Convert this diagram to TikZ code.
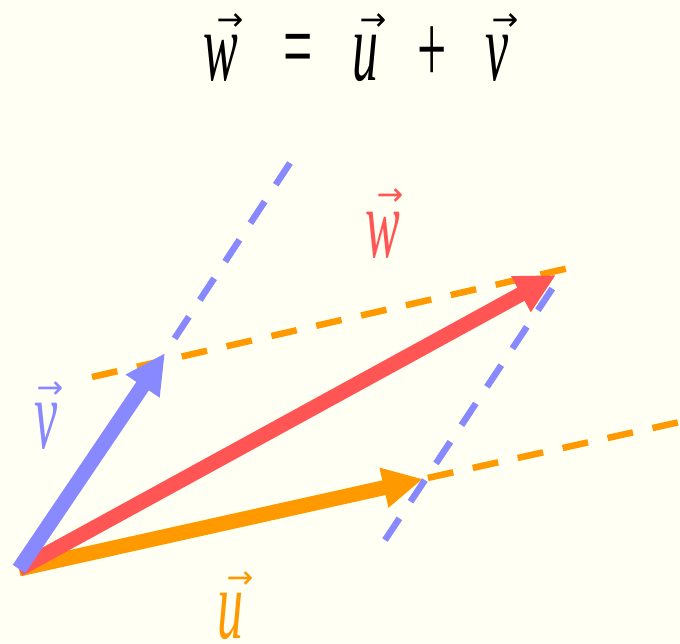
\documentclass[tikz,border=0pt]{standalone}
\usepackage{fontspec}
\setmainfont{Liberation Serif}
\newfontfamily\arrowfont{DejaVu Sans}
\usetikzlibrary{arrows.meta}
\definecolor{bg}{HTML}{FFFFF4}
\definecolor{vblue}{HTML}{8888FF}
\definecolor{wred}{HTML}{FF5555}
\definecolor{uorange}{HTML}{FF9900}
\newcommand\arrowglyph{{\arrowfont\fontsize{32}{36}\selectfont →}}
% #1 shift of arrow from letter centre, #2 raise of arrow, #3 letter
\newcommand\veclet[3]{%
  \sbox0{\scalebox{1}[1.9]{#3}}%
  \makebox[0pt][l]{\hspace*{\dimexpr0.5\wd0+#1\relax}\raisebox{#2}{\makebox[0pt]{\arrowglyph}}}\usebox0}
\tikzset{
  vecarrow/.style={line width=15pt, -{Triangle[length=40pt,width=38pt]}},
  guide/.style={line width=6.5pt, dash pattern=on 26pt off 20pt},
  letter/.style={inner sep=0pt, anchor=base, font=\fontsize{52}{60}\selectfont\itshape},
  sym/.style={inner sep=0pt, font=\fontsize{52}{60}\selectfont},
}
\begin{document}
\begin{tikzpicture}[x=1pt,y=-1pt]
\fill[bg] (0,0) rectangle (680,643);
\useasboundingbox (0,0) rectangle (680,643);
\clip (0,0) rectangle (680,643);
% title
\node[letter] (tw) at (221,80) {\veclet{9pt}{50pt}{w}};
\node[sym] (teq) at (298,57) {\scalebox{1}[1.9]{=}};
\node[letter] (tu) at (365,80) {\veclet{8pt}{50pt}{u}};
\node[sym] (tplus) at (432,55) {\scalebox{1}[1.9]{+}};
\node[letter] (tv) at (497,80) {\veclet{8pt}{50pt}{v}};
% points
\coordinate (O) at (19,569);
\coordinate (V) at (165,353);
\coordinate (U) at (423,479);
\coordinate (W) at (556,275);
\coordinate (ou1) at (92,377);
\coordinate (ou2) at (569,268);
\coordinate (ol2) at (700,417.5);
\coordinate (br1) at (385,540);
\coordinate (br2) at (556,283);
\coordinate (bl2) at (290,163);
% vectors and guides
\draw[vecarrow, uorange] (O) -- (U);
\draw[guide, uorange] (ou1) -- (ou2);
\draw[guide, uorange, dash phase=41pt] (U) -- (ol2);
\draw[guide, vblue] (br1) -- (br2);
\draw[guide, vblue] (bl2) -- (V);
\draw[vecarrow, wred] (O) -- (W);
\draw[vecarrow, vblue] (O) -- (V);
% labels
\node[letter, text=wred] (lw) at (383,257) {\veclet{7pt}{52pt}{w}};
\node[letter, text=vblue] (lv) at (46,448) {\veclet{4pt}{50pt}{v}};
\node[letter, text=uorange] (lu) at (230,638) {\veclet{10pt}{50pt}{u}};
\end{tikzpicture}
\end{document}
